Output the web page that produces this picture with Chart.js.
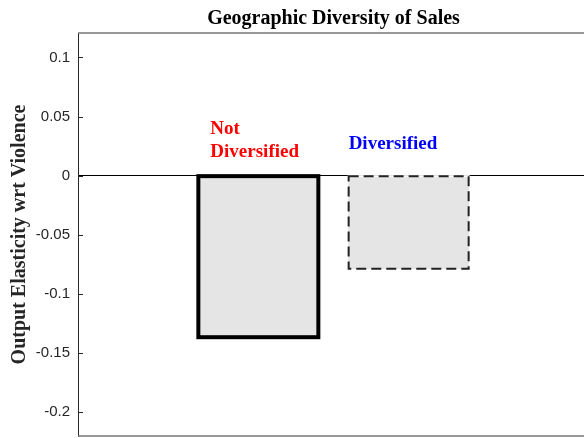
<!DOCTYPE html>
<html>
<head>
<meta charset="utf-8">
<script src="https://cdn.jsdelivr.net/npm/chart.js@4.4.0/dist/chart.umd.min.js"></script>
<style>
  html, body { margin: 0; padding: 0; background: #fff; overflow: hidden; }
  #wrap { width: 589px; height: 438px; }
</style>
</head>
<body>
<div id="wrap"><canvas id="myChart"></canvas></div>
<script>
// values
const categories = ["Not Diversified", "Diversified"];
const barPositions = [1, 2];
const elasticity = [-0.1367, -0.0788];
const yTicks = [0.1, 0.05, 0, -0.05, -0.1, -0.15, -0.2];
const barLabels = [["Not", "Diversified"], ["Diversified"]];
const labelColors = ["#ff0000", "#0000ff"];

const serif = "'Liberation Serif', 'Times New Roman', serif";
const sans = "'Liberation Sans', Arial, sans-serif";

// bar outlines (solid / dashed), inward ticks, box and text labels
const matlabLook = {
  id: "matlabLook",
  afterDatasetsDraw(chart) {
    const ctx = chart.ctx;
    const area = chart.chartArea;
    const y = chart.scales.y;
    const meta = chart.getDatasetMeta(0);

    meta.data.forEach((bar, i) => {
      const left = bar.x - bar.width / 2;
      const top = Math.min(bar.y, bar.base);
      const h = Math.abs(bar.base - bar.y);
      ctx.save();
      if (i == 0) {
        ctx.lineWidth = 4;
        ctx.strokeStyle = "#000";
        ctx.setLineDash([]);
      } else {
        // hide the zero line under the dashed top edge
        ctx.fillStyle = "#fff";
        ctx.fillRect(left - 1, top - 1, bar.width + 2, 2);
        ctx.lineWidth = 2;
        ctx.strokeStyle = "#222";
        ctx.setLineDash([10, 5]);
      }
      ctx.strokeRect(left, top, bar.width, h);
      ctx.restore();

      // text above each bar
      ctx.save();
      ctx.font = "bold 19px " + serif;
      ctx.fillStyle = labelColors[i];
      ctx.textBaseline = "alphabetic";
      const lines = barLabels[i];
      const zero = y.getPixelForValue(0);
      if (lines.length == 2) {
        ctx.fillText(lines[0], left + 12, zero - 42);
        ctx.fillText(lines[1], left + 12, zero - 19);
      } else {
        ctx.fillText(lines[0], left, zero - 27);
      }
      ctx.restore();
    });

    // inward tick marks
    ctx.save();
    ctx.strokeStyle = "#262626";
    ctx.lineWidth = 1;
    yTicks.forEach((v) => {
      const py = Math.round(y.getPixelForValue(v)) + 0.5;
      ctx.beginPath();
      ctx.moveTo(area.left, py);
      ctx.lineTo(area.left + 5, py);
      ctx.moveTo(area.right, py);
      ctx.lineTo(area.right - 5, py);
      ctx.stroke();
    });

    // top and bottom edges of the box
    ctx.strokeStyle = "#777";
    ctx.lineWidth = 1.5;
    ctx.beginPath();
    ctx.moveTo(area.left, area.top);
    ctx.lineTo(area.right, area.top);
    ctx.moveTo(area.left, area.bottom);
    ctx.lineTo(area.right, area.bottom);
    ctx.stroke();
    ctx.restore();
  },
};

const ctx = document.getElementById("myChart").getContext("2d");
const chart = new Chart(ctx, {
  type: "bar",
  data: {
    labels: categories,
    datasets: [
      {
        data: barPositions.map((x, i) => ({ x: x, y: elasticity[i] })),
        backgroundColor: "#e5e5e5",
        borderWidth: 0,
        barThickness: 120,
      },
    ],
  },
  options: {
    responsive: true,
    maintainAspectRatio: false,
    animation: false,
    layout: { padding: { top: 0, bottom: 2, left: 0, right: 0 } },
    plugins: {
      legend: { display: false },
      tooltip: { enabled: false },
      title: {
        display: true,
        text: "Geographic Diversity of Sales",
        fullSize: false,
        color: "#000",
        font: { family: serif, size: 20, weight: "bold" },
        padding: { top: 7, bottom: 2 },
      },
    },
    scales: {
      x: {
        type: "linear",
        min: -0.2,
        max: 3.2,
        offset: false,
        display: false,
      },
      y: {
        min: -0.2203,
        max: 0.1207,
        afterBuildTicks: (s) => {
          s.ticks = yTicks.map((v) => ({ value: v }));
        },
        afterFit: (s) => {
          s.width = 78;
          s.paddingTop = 0;
          s.paddingBottom = 0;
        },
        border: { display: true, color: "#262626", width: 1 },
        grid: {
          drawTicks: false,
          color: (c) => (c.tick && c.tick.value === 0 ? "#000" : "rgba(0,0,0,0)"),
          lineWidth: 1,
        },
        ticks: {
          color: "#262626",
          padding: 8,
          font: { family: sans, size: 15 },
          callback: (v) => String(v),
        },
        title: {
          display: true,
          text: "Output Elasticity wrt Violence",
          color: "#262626",
          font: { family: serif, size: 20, weight: "bold" },
          padding: { top: 8, bottom: 0 },
        },
      },
    },
  },
  plugins: [matlabLook],
});
</script>
</body>
</html>
